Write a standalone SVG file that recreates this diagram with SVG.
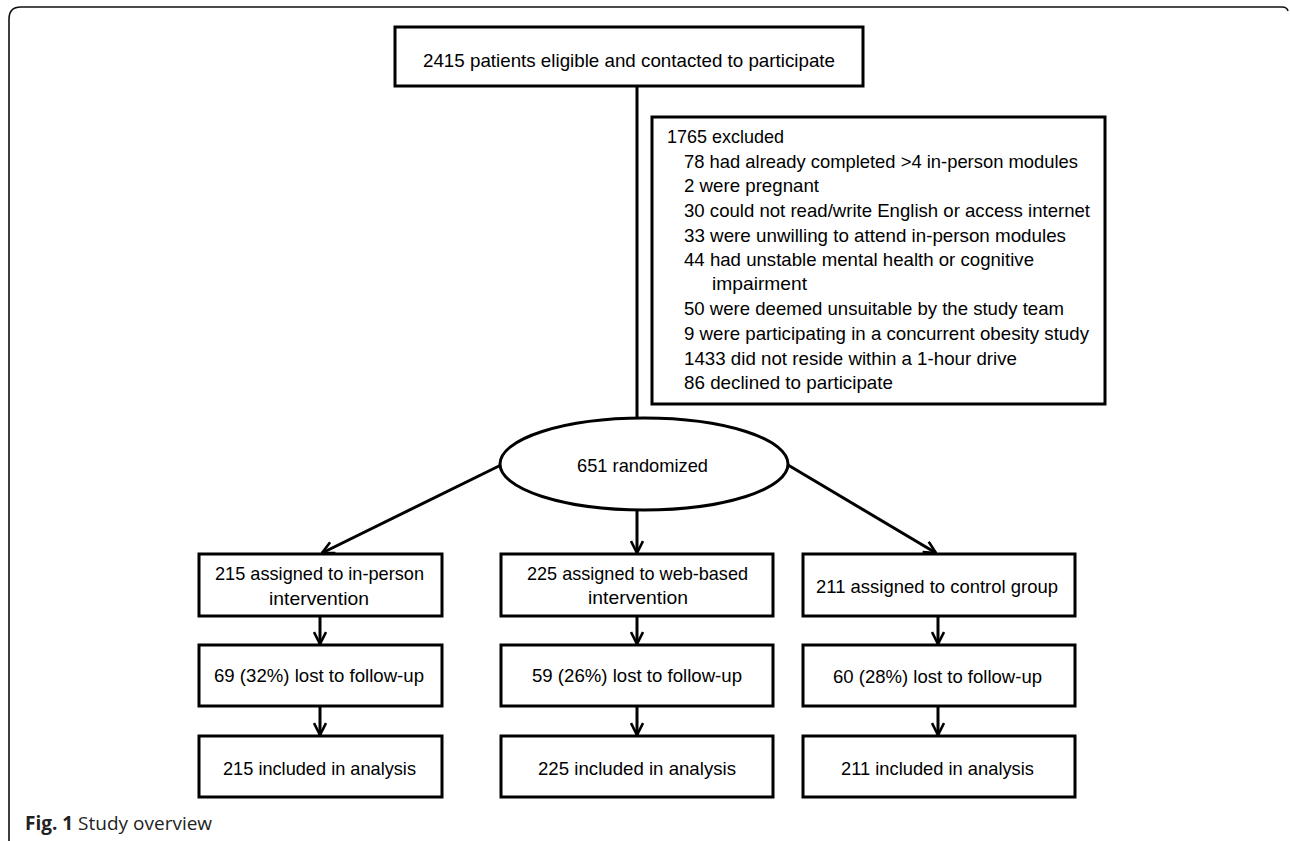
<svg xmlns="http://www.w3.org/2000/svg" width="1290" height="841" viewBox="0 0 1290 841">
<defs>
<style>
.box{fill:#fff;stroke:#000;stroke-width:3}
.t{font-family:"Liberation Sans",Arial,sans-serif;font-size:19px;fill:#000}
.ln{stroke:#000;stroke-width:3;fill:none}
.cap{font-family:"Open Sans","Noto Sans",sans-serif;font-size:19px;fill:#222}
</style>
<marker id="ah" viewBox="0 0 14 14" refX="13" refY="7" markerWidth="14" markerHeight="14" markerUnits="userSpaceOnUse" orient="auto">
<path d="M1,1 L13,7 L1,13" fill="none" stroke="#000" stroke-width="2.6"/>
</marker>
</defs>
<rect width="1290" height="841" fill="#fff"/>
<path d="M9,841 L9,19 Q9,7 21,7 L1282,7 Q1287,7 1288,11" fill="none" stroke="#111" stroke-width="1.6"/>
<g id="connectors">
<line class="ln" x1="637" y1="86" x2="637" y2="418"/>
<line class="ln" x1="501" y1="465" x2="322" y2="553" marker-end="url(#ah)"/>
<line class="ln" x1="637" y1="510" x2="637" y2="553" marker-end="url(#ah)"/>
<line class="ln" x1="788" y1="465" x2="936" y2="553" marker-end="url(#ah)"/>
<line class="ln" x1="320" y1="616" x2="320" y2="644" marker-end="url(#ah)"/>
<line class="ln" x1="320" y1="706" x2="320" y2="735" marker-end="url(#ah)"/>
<line class="ln" x1="637" y1="616" x2="637" y2="644" marker-end="url(#ah)"/>
<line class="ln" x1="637" y1="706" x2="637" y2="735" marker-end="url(#ah)"/>
<line class="ln" x1="938" y1="616" x2="938" y2="644" marker-end="url(#ah)"/>
<line class="ln" x1="938" y1="706" x2="938" y2="735" marker-end="url(#ah)"/>
</g>
<g id="eligible">
<rect class="box" x="395" y="27" width="468" height="59"/>
<text class="t" x="423" y="67" textLength="412" lengthAdjust="spacingAndGlyphs">2415 patients eligible and contacted to participate</text>
</g>
<g id="excluded">
<rect class="box" x="652" y="117" width="453" height="287"/>
<text class="t" x="667" y="143" textLength="117" lengthAdjust="spacingAndGlyphs">1765 excluded</text>
<text class="t" x="684" y="168" textLength="394" lengthAdjust="spacingAndGlyphs">78 had already completed &gt;4 in-person modules</text>
<text class="t" x="684" y="192" textLength="135" lengthAdjust="spacingAndGlyphs">2 were pregnant</text>
<text class="t" x="684" y="217" textLength="406" lengthAdjust="spacingAndGlyphs">30 could not read/write English or access internet</text>
<text class="t" x="684" y="242" textLength="382" lengthAdjust="spacingAndGlyphs">33 were unwilling to attend in-person modules</text>
<text class="t" x="684" y="266" textLength="350" lengthAdjust="spacingAndGlyphs">44 had unstable mental health or cognitive</text>
<text class="t" x="712" y="290" textLength="95" lengthAdjust="spacingAndGlyphs">impairment</text>
<text class="t" x="684" y="315" textLength="380" lengthAdjust="spacingAndGlyphs">50 were deemed unsuitable by the study team</text>
<text class="t" x="684" y="340" textLength="405" lengthAdjust="spacingAndGlyphs">9 were participating in a concurrent obesity study</text>
<text class="t" x="684" y="365" textLength="333" lengthAdjust="spacingAndGlyphs">1433 did not reside within a 1-hour drive</text>
<text class="t" x="684" y="389" textLength="209" lengthAdjust="spacingAndGlyphs">86 declined to participate</text>
</g>
<g id="randomized">
<ellipse cx="644" cy="464" rx="144" ry="46" fill="#fff" stroke="#000" stroke-width="3"/>
<text class="t" x="577" y="472" textLength="131" lengthAdjust="spacingAndGlyphs">651 randomized</text>
</g>
<g id="inperson">
<rect class="box" x="199" y="554" width="243" height="62"/>
<text class="t" x="215" y="580" textLength="209" lengthAdjust="spacingAndGlyphs">215 assigned to in-person</text>
<text class="t" x="269" y="605" textLength="100" lengthAdjust="spacingAndGlyphs">intervention</text>
</g>
<g id="webbased">
<rect class="box" x="501" y="554" width="272" height="62"/>
<text class="t" x="527" y="580" textLength="221" lengthAdjust="spacingAndGlyphs">225 assigned to web-based</text>
<text class="t" x="588" y="604" textLength="100" lengthAdjust="spacingAndGlyphs">intervention</text>
</g>
<g id="control">
<rect class="box" x="803" y="554" width="272" height="62"/>
<text class="t" x="816" y="593" textLength="242" lengthAdjust="spacingAndGlyphs">211 assigned to control group</text>
</g>
<g id="lost1">
<rect class="box" x="199" y="645" width="243" height="61"/>
<text class="t" x="214" y="682" textLength="210" lengthAdjust="spacingAndGlyphs">69 (32%) lost to follow-up</text>
</g>
<g id="lost2">
<rect class="box" x="501" y="645" width="272" height="61"/>
<text class="t" x="532" y="682" textLength="210" lengthAdjust="spacingAndGlyphs">59 (26%) lost to follow-up</text>
</g>
<g id="lost3">
<rect class="box" x="803" y="645" width="272" height="61"/>
<text class="t" x="833" y="683" textLength="209" lengthAdjust="spacingAndGlyphs">60 (28%) lost to follow-up</text>
</g>
<g id="analysis1">
<rect class="box" x="199" y="736" width="243" height="61"/>
<text class="t" x="223" y="775" textLength="193" lengthAdjust="spacingAndGlyphs">215 included in analysis</text>
</g>
<g id="analysis2">
<rect class="box" x="501" y="736" width="272" height="61"/>
<text class="t" x="538" y="775" textLength="198" lengthAdjust="spacingAndGlyphs">225 included in analysis</text>
</g>
<g id="analysis3">
<rect class="box" x="803" y="736" width="272" height="61"/>
<text class="t" x="841" y="775" textLength="193" lengthAdjust="spacingAndGlyphs">211 included in analysis</text>
</g>
<text class="cap" x="25" y="830"><tspan font-weight="bold">Fig. 1</tspan> Study overview</text>
</svg>
